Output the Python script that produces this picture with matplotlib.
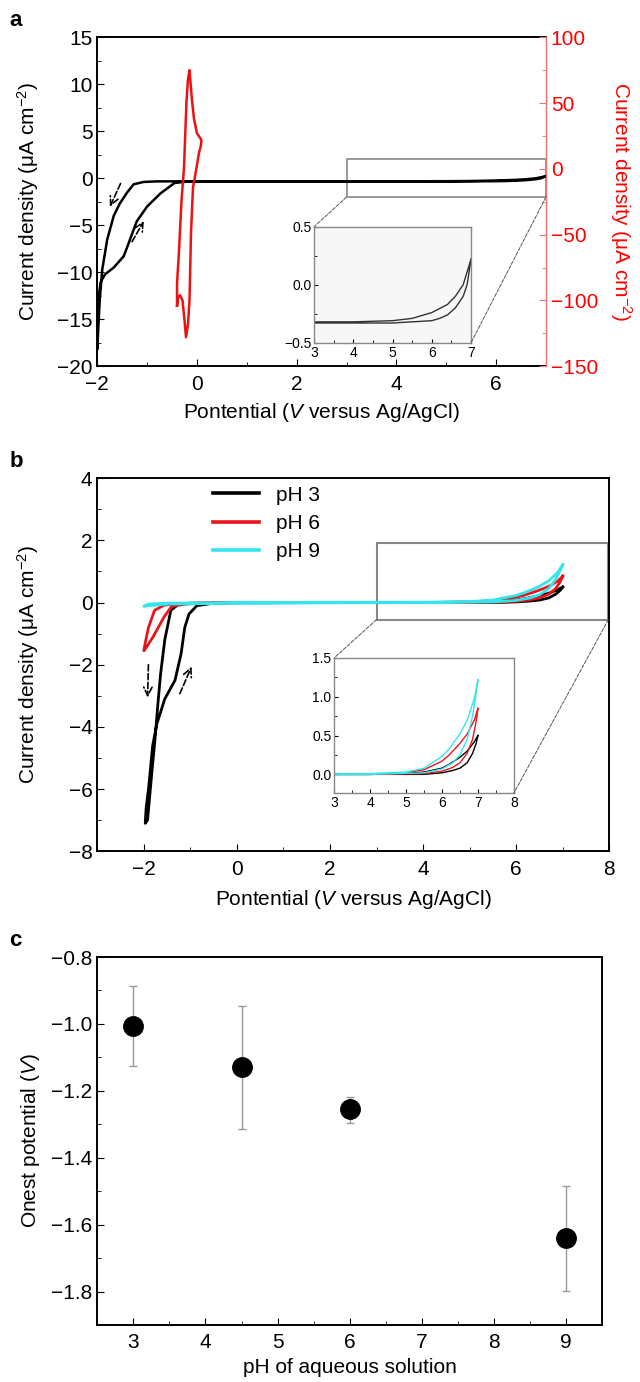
import matplotlib
matplotlib.use("Agg")
import matplotlib.pyplot as plt
from matplotlib.patches import Rectangle, ConnectionPatch
from matplotlib.ticker import MultipleLocator, FuncFormatter

plt.rcParams['font.family'] = ['Liberation Sans', 'DejaVu Sans']
plt.rcParams['mathtext.fontset'] = 'custom'
plt.rcParams['mathtext.rm'] = 'Liberation Sans'
plt.rcParams['mathtext.it'] = 'Liberation Sans:italic'
plt.rcParams['font.size'] = 15
plt.rcParams['xtick.direction'] = 'in'
plt.rcParams['ytick.direction'] = 'in'
plt.rcParams['xtick.major.size'] = 5
plt.rcParams['ytick.major.size'] = 5
plt.rcParams['xtick.minor.size'] = 3
plt.rcParams['ytick.minor.size'] = 3
plt.rcParams['xtick.major.pad'] = 6
plt.rcParams['axes.linewidth'] = 1.4


def one_dec(v, pos):
    return ('%.1f' % v).replace('-', '\u2212')


# panel a: black CV loop (left axis) and red CV (right axis)
a_pot = [7.0, 6.8, 6.6, 6.4, 6.0, 5.5, 5.0, 4.0, 2.0, 0.0, -0.8, -1.07, -1.27,
         -1.40, -1.55, -1.67, -1.80, -1.90, -1.95, -1.98, -2.0, -1.99, -1.97,
         -1.93, -1.84, -1.67, -1.47, -1.37, -1.21, -1.0, -0.73, -0.45, -0.2,
         0.0, 2.0, 4.0, 5.0, 6.0, 6.2, 6.4, 6.6, 6.8, 6.9, 7.0]
a_cur = [0.22, 0.0, -0.1, -0.17, -0.24, -0.29, -0.31, -0.32, -0.32, -0.32,
         -0.33, -0.39, -0.64, -1.5, -2.7, -4.0, -6.5, -9.7, -12.9, -16.0, -18.2,
         -15.0, -12.5, -11.0, -10.2, -9.5, -8.3, -6.9, -4.6, -3.0, -1.6, -0.5,
         -0.35, -0.33, -0.33, -0.33, -0.33, -0.31, -0.29, -0.26, -0.2, -0.1,
         0.0, 0.22]
red_pot = [-0.40, -0.38, -0.34, -0.29, -0.25, -0.22, -0.18, -0.15, -0.12,
           -0.08, -0.04, 0.04, 0.08, 0.09, 0.0, -0.06, -0.10, -0.13, -0.15,
           -0.18, -0.21, -0.26, -0.31, -0.36, -0.40, -0.40]
red_cur = [-104, -98, -96, -100, -115, -128, -118, -100, -49, -14, -6, 12, 18,
           22, 27, 38, 52, 66, 75, 68, 52, 1, -24, -62, -87, -104]

# panel b: CV loops at three pH values
b3_pot = [7.0, 6.9, 6.7, 6.5, 6.2, 6.0, 5.5, 5.0, 4.0, 2.0, 0.0, -1.0, -1.25,
          -1.42, -1.55, -1.64, -1.70, -1.76, -1.83, -1.92, -1.97, -1.95, -1.90,
          -1.81, -1.72, -1.55, -1.33, -1.20, -1.12, -1.03, -0.86, -0.5, -0.33,
          0.0, 2.0, 4.0, 5.0, 5.5, 6.0, 6.3, 6.5, 6.7, 6.85, 6.95, 7.0]
b3_cur = [0.5, 0.42, 0.3, 0.22, 0.13, 0.08, 0.03, 0.01, 0.0, 0.0, -0.01, -0.02,
          -0.05, -0.25, -1.2, -2.3, -3.3, -4.4, -5.5, -7.0, -7.1, -6.6, -6.0,
          -4.6, -3.9, -3.1, -2.5, -1.65, -0.8, -0.37, -0.1, -0.02, 0.0, 0.0,
          0.0, 0.0, 0.0, 0.0, 0.02, 0.05, 0.08, 0.15, 0.27, 0.4, 0.5]
b6_pot = [7.0, 6.9, 6.7, 6.5, 6.2, 6.0, 5.5, 5.0, 4.0, 0.0, -1.1, -1.4, -1.56,
          -1.77, -1.90, -1.97, -2.0, -1.95, -1.80, -1.56, -1.40, -1.10, -0.8,
          0.0, 4.0, 5.5, 6.0, 6.3, 6.5, 6.7, 6.85, 6.95, 7.0]
b6_cur = [0.85, 0.7, 0.52, 0.4, 0.25, 0.17, 0.06, 0.02, 0.0, 0.0, -0.03, -0.06,
          -0.08, -0.25, -0.8, -1.3, -1.55, -1.45, -1.1, -0.45, -0.12, -0.05,
          -0.02, 0.0, 0.0, 0.01, 0.04, 0.09, 0.15, 0.27, 0.45, 0.68, 0.85]
b9_pot = [7.0, 6.9, 6.7, 6.5, 6.2, 6.0, 5.5, 5.0, 4.0, 0.0, -1.5, -1.9, -2.0,
          -1.9, -1.5, 0.0, 4.0, 5.5, 6.0, 6.3, 6.5, 6.7, 6.85, 6.95, 7.0]
b9_cur = [1.22, 0.98, 0.7, 0.52, 0.33, 0.23, 0.08, 0.03, 0.01, 0.0, -0.02,
          -0.05, -0.12, -0.1, -0.05, -0.02, 0.0, 0.02, 0.07, 0.15, 0.25, 0.45,
          0.75, 1.05, 1.22]
b_labels = ['pH 3', 'pH 6', 'pH 9']
b_colors = ['black', '#e8141c', '#33e6ee']

# panel c: onset potential vs pH
ph = [3, 4.5, 6, 9]
onset = [-1.005, -1.13, -1.255, -1.64]
err_low = [0.12, 0.185, 0.042, 0.157]
err_high = [0.118, 0.185, 0.037, 0.156]

fig = plt.figure(figsize=(6.4, 13.82), dpi=100)

# ---------------- panel a ----------------
ax = fig.add_axes([0.152, 0.735, 0.701, 0.238])
ax.plot(a_pot, a_cur, color='black', lw=1.8)
ax.set_xlim(-2, 7)
ax.set_ylim(-20, 15)
ax.xaxis.set_major_locator(MultipleLocator(2))
ax.xaxis.set_minor_locator(MultipleLocator(1))
ax.yaxis.set_major_locator(MultipleLocator(5))
ax.yaxis.set_minor_locator(MultipleLocator(2.5))
ax.spines['right'].set_visible(False)
ax.set_ylabel(r'Current density (μA cm$^{-2}$)')
ax.yaxis.set_label_coords(-0.125, 0.5)
ax.set_xlabel(r'Pontential ($\mathit{V}$ versus Ag/AgCl)', labelpad=5)
ax.add_patch(Rectangle((3, -2), 4, 4, fill=False, ec='#888888', lw=1.2))
ax.annotate('', xy=(-1.77, -3.3), xytext=(-1.51, -0.29),
            arrowprops=dict(arrowstyle='->', ls='--', lw=1.2, color='black'))
ax.annotate('', xy=(-1.04, -4.3), xytext=(-1.33, -7.0),
            arrowprops=dict(arrowstyle='->', ls='--', lw=1.2, color='black'))

ax2 = ax.twinx()
ax2.plot(red_pot, red_cur, color='#ee1111', lw=1.8)
ax2.set_ylim(-150, 100)
ax2.yaxis.set_major_locator(MultipleLocator(50))
ax2.yaxis.set_minor_locator(MultipleLocator(25))
for s in ['left', 'top', 'bottom']:
    ax2.spines[s].set_visible(False)
ax2.spines['right'].set_color('#f07070')
ax2.spines['right'].set_linewidth(1.0)
ax2.tick_params(axis='y', which='both', colors='#f07070', labelcolor='red')
ax2.set_ylabel(r'Current density (μA cm$^{-2}$)', color='red', rotation=270,
               labelpad=26)

ins = fig.add_axes([0.491, 0.752, 0.245, 0.084])
ins.set_facecolor('#f7f7f7')
ins.plot(a_pot, a_cur, color='#333333', lw=1.0)
ins.set_xlim(3, 7)
ins.set_ylim(-0.5, 0.5)
ins.xaxis.set_major_locator(MultipleLocator(1))
ins.xaxis.set_minor_locator(MultipleLocator(0.5))
ins.yaxis.set_major_locator(MultipleLocator(0.5))
ins.yaxis.set_minor_locator(MultipleLocator(0.25))
ins.tick_params(labelsize=10, length=3, pad=2)
ins.tick_params(which='minor', length=2)
ins.yaxis.set_major_formatter(FuncFormatter(one_dec))
for s in ins.spines.values():
    s.set_color('#888888')
    s.set_linewidth(1.0)
for pa, pb in [((3, -2), (0, 1)), ((7, -2), (1, 0))]:
    fig.add_artist(ConnectionPatch(xyA=pa, coordsA=ax.transData, xyB=pb,
                                   coordsB=ins.transAxes, ls='--', lw=0.7,
                                   color='#555555'))
fig.text(0.015, 0.985, 'a', fontsize=16, fontweight='bold', va='center')

# ---------------- panel b ----------------
bx = fig.add_axes([0.152, 0.384, 0.800, 0.270])
for p, c, lab, col in zip([b3_pot, b6_pot, b9_pot], [b3_cur, b6_cur, b9_cur],
                          b_labels, b_colors):
    bx.plot(p, c, color=col, lw=2.0, label=lab)
bx.set_xlim(-3, 8)
bx.set_ylim(-8, 4)
bx.xaxis.set_major_locator(MultipleLocator(2))
bx.xaxis.set_minor_locator(MultipleLocator(1))
bx.yaxis.set_major_locator(MultipleLocator(2))
bx.yaxis.set_minor_locator(MultipleLocator(1))
bx.set_ylabel(r'Current density (μA cm$^{-2}$)')
bx.yaxis.set_label_coords(-0.109, 0.5)
bx.set_xlabel(r'Pontential ($\mathit{V}$ versus Ag/AgCl)', labelpad=7)
leg = bx.legend(loc='upper left', bbox_to_anchor=(0.19, 1.03), frameon=False,
                handlelength=2.2, labelspacing=0.45, fontsize=15)
for h in leg.get_lines():
    h.set_linewidth(2.6)
bx.add_patch(Rectangle((3, -0.55), 4.98, 2.45, fill=False, ec='#888888', lw=1.5))
bx.annotate('', xy=(-1.92, -3.14), xytext=(-1.90, -1.91),
            arrowprops=dict(arrowstyle='->', ls='--', lw=1.2, color='black'))
bx.annotate('', xy=(-0.95, -1.98), xytext=(-1.25, -3.01),
            arrowprops=dict(arrowstyle='->', ls='--', lw=1.2, color='black'))

bins = fig.add_axes([0.522, 0.4262, 0.281, 0.0977])
for p, c, col in zip([b3_pot, b6_pot, b9_pot], [b3_cur, b6_cur, b9_cur],
                     b_colors):
    bins.plot(p, c, color=col, lw=1.0)
bins.set_xlim(3, 8)
bins.set_ylim(-0.24, 1.5)
bins.xaxis.set_major_locator(MultipleLocator(1))
bins.xaxis.set_minor_locator(MultipleLocator(0.5))
bins.yaxis.set_major_locator(MultipleLocator(0.5))
bins.yaxis.set_minor_locator(MultipleLocator(0.25))
bins.yaxis.set_major_formatter(FuncFormatter(one_dec))
bins.tick_params(labelsize=10, length=3, pad=2)
bins.tick_params(which='minor', length=2)
for s in bins.spines.values():
    s.set_color('#888888')
    s.set_linewidth(1.0)
for pa, pb in [((3, -0.55), (0, 1)), ((7.98, -0.55), (1, 0))]:
    fig.add_artist(ConnectionPatch(xyA=pa, coordsA=bx.transData, xyB=pb,
                                   coordsB=bins.transAxes, ls='--', lw=0.7,
                                   color='#555555'))
fig.text(0.015, 0.666, 'b', fontsize=16, fontweight='bold', va='center')

# ---------------- panel c ----------------
cx = fig.add_axes([0.152, 0.0412, 0.789, 0.2663])
cx.errorbar(ph, onset, yerr=[err_low, err_high], fmt='none', ecolor='#999999',
            elinewidth=1.0, capsize=3, capthick=1.0)
cx.plot(ph, onset, 'o', color='black', ms=14)
cx.set_xlim(2.5, 9.5)
cx.set_ylim(-1.9, -0.8)
cx.xaxis.set_major_locator(MultipleLocator(1))
cx.xaxis.set_minor_locator(MultipleLocator(0.5))
cx.yaxis.set_major_locator(MultipleLocator(0.2))
cx.yaxis.set_minor_locator(MultipleLocator(0.1))
cx.yaxis.set_major_formatter(FuncFormatter(one_dec))
cx.set_ylabel(r'Onest potential ($\mathit{V}$)')
cx.yaxis.set_label_coords(-0.109, 0.5)
cx.set_xlabel('pH of aqueous solution', labelpad=4)
fig.text(0.015, 0.3195, 'c', fontsize=16, fontweight='bold', va='center')

fig.savefig('out.png', dpi=100)
